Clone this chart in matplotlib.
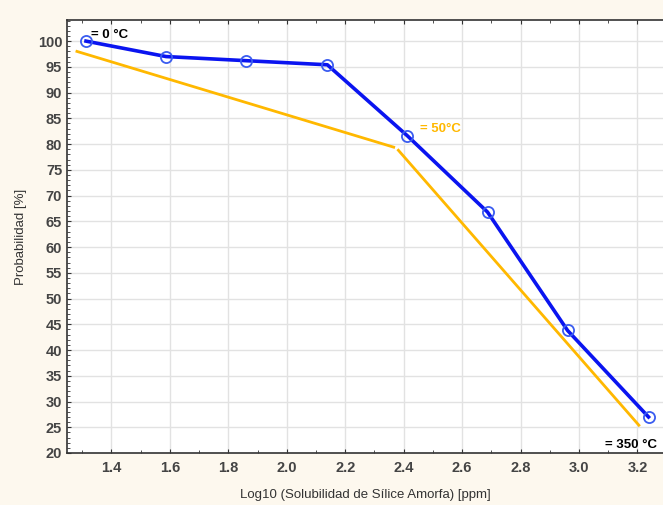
import matplotlib
matplotlib.use("Agg")
import matplotlib.pyplot as plt
from matplotlib.ticker import MultipleLocator

plt.rcParams['font.family'] = ['Liberation Sans', 'DejaVu Sans']

# blue probability curve
log_sol = [1.313, 1.587, 1.861, 2.139, 2.413, 2.687, 2.961, 3.238]
prob = [100.0, 97.0, 96.2, 95.4, 81.6, 66.8, 43.8, 27.0]

# yellow reference segments (two pieces)
seg1_x = [1.282, 2.366]
seg1_y = [98.0, 79.4]
seg2_x = [2.382, 3.205]
seg2_y = [78.8, 25.4]

labels = ["= 0 °C", "= 50°C", "= 350 °C"]

fig = plt.figure(figsize=(6.63, 5.05), dpi=100)
fig.patch.set_facecolor('#fdf8ee')
ax = fig.add_axes([67/663, 52/505, 597/663, 433/505])
ax.set_facecolor('white')

ax.plot(seg1_x, seg1_y, color='#ffb800', lw=2)
ax.plot(seg2_x, seg2_y, color='#ffb800', lw=2)
ax.plot(log_sol, prob, color='#0a14f0', lw=2.6, marker='o', ms=8,
        mfc='none', mec='#3a5cf0', mew=1.3)

ax.text(1.33, 100.6, labels[0], fontsize=9.5, fontweight='bold', color='black')
ax.text(2.455, 82.4, labels[1], fontsize=9.5, fontweight='bold', color='#ffb800')
ax.text(3.09, 20.9, labels[2], fontsize=9.5, fontweight='bold', color='black',
        clip_on=False)

ax.set_xlim(1.248, 3.291)
ax.set_ylim(20, 104.1)
ax.xaxis.set_major_locator(MultipleLocator(0.2))
ax.xaxis.set_minor_locator(MultipleLocator(0.1))
ax.yaxis.set_major_locator(MultipleLocator(5))
ax.yaxis.set_minor_locator(MultipleLocator(1))
ax.grid(True, which='major', color='#e2e2e2', lw=1)
ax.set_axisbelow(True)
ax.tick_params(which='both', direction='in', top=True, colors='#333333',
               labelsize=10.5, labelcolor='#444444')
ax.tick_params(axis='x', pad=6)
ax.tick_params(which='major', length=3)
ax.tick_params(which='minor', length=2)
for lab in ax.get_xticklabels() + ax.get_yticklabels():
    lab.set_fontweight('bold')
for s in ax.spines.values():
    s.set_color('#333333')
    s.set_linewidth(1.2)

ax.set_xlabel("Log10 (Solubilidad de Sílice Amorfa) [ppm]", fontsize=9.5,
              color='#333333', labelpad=10)
ax.set_ylabel("Probabilidad [%]", fontsize=9.5, color='#333333', labelpad=8)

fig.savefig("out.png", dpi=100, facecolor=fig.get_facecolor())
